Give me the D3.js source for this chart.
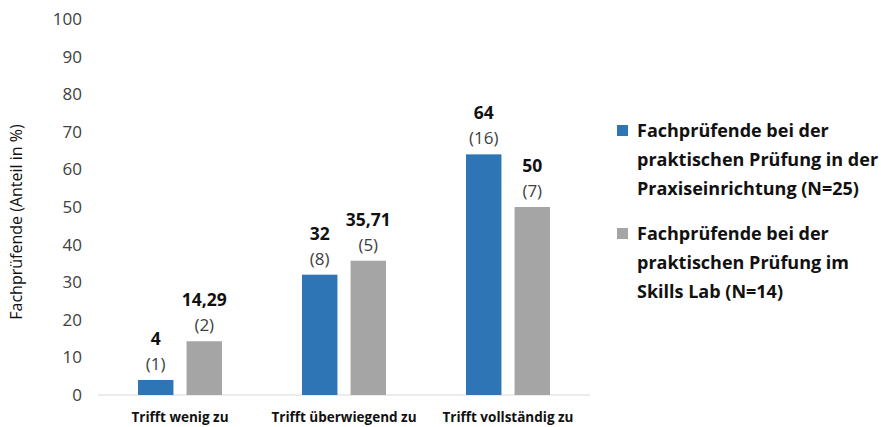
<!DOCTYPE html>
<html>
<head>
<meta charset="utf-8">
<script src="https://cdn.jsdelivr.net/npm/d3@7"></script>
<style>
  body { margin: 0; background: #fff; }
  svg { font-family: "Open Sans", sans-serif; }
</style>
</head>
<body>
<svg id="chart" width="895" height="427"></svg>
<script>
// Kategorien und Werte (Anteil in %), Anzahl in Klammern
const categories = ["Trifft wenig zu", "Trifft überwiegend zu", "Trifft vollständig zu"];
const seriesNames = [
  ["Fachprüfende bei der", "praktischen Prüfung in der", "Praxiseinrichtung (N=25)"],
  ["Fachprüfende bei der", "praktischen Prüfung im", "Skills Lab (N=14)"]
];
const praxisValues = [4, 32, 64];
const praxisCounts = [1, 8, 16];
const skillsValues = [14.29, 35.71, 50];
const skillsCounts = [2, 5, 7];
const yTicks = [0, 10, 20, 30, 40, 50, 60, 70, 80, 90, 100];
const colors = ["#2E75B6", "#A5A5A5"];

const svg = d3.select("#chart");

const x = d3.scaleBand().domain(categories).range([98, 590]).padding(0);
const y = d3.scaleLinear().domain([0, 100]).range([395, 19]);

// inner scale for the two bars of one group
const sub = d3.scaleBand().domain([0, 1]).range([-42, 42]).paddingInner(0.27);

const fmt = v => String(v).replace(".", ",");

const rows = [];
categories.forEach(function (c, i) {
  rows.push({cat: c, s: 0, v: praxisValues[i], n: praxisCounts[i]});
  rows.push({cat: c, s: 1, v: skillsValues[i], n: skillsCounts[i]});
});

// y axis (labels only, no line)
const yAxis = svg.append("g")
  .attr("transform", "translate(82,0)")
  .call(d3.axisLeft(y).tickValues(yTicks).tickSize(0).tickPadding(0));
yAxis.select(".domain").remove();
yAxis.selectAll("text")
  .style("font-family", "Open Sans")
  .style("font-size", "17px")
  .style("fill", "#404040");

// baseline
svg.append("line")
  .attr("x1", x.range()[0]).attr("x2", x.range()[1])
  .attr("y1", y(0)).attr("y2", y(0))
  .style("stroke", "#d9d9d9")
  .style("stroke-width", 1);

// bars
const cx = d => x(d.cat) + x.bandwidth() / 2 + sub(d.s);
svg.selectAll("rect.bar")
  .data(rows)
  .enter()
  .append("rect")
  .attr("class", "bar")
  .attr("x", cx)
  .attr("width", sub.bandwidth())
  .attr("y", d => y(d.v))
  .attr("height", d => y(0) - y(d.v))
  .style("fill", d => colors[d.s]);

// value labels
svg.selectAll("text.val")
  .data(rows)
  .enter()
  .append("text")
  .attr("class", "val")
  .attr("x", d => cx(d) + sub.bandwidth() / 2)
  .attr("y", d => y(d.v) - 35)
  .attr("text-anchor", "middle")
  .style("font-size", "17.5px")
  .style("font-weight", "bold")
  .style("fill", "#111")
  .text(d => fmt(d.v));

svg.selectAll("text.cnt")
  .data(rows)
  .enter()
  .append("text")
  .attr("class", "cnt")
  .attr("x", d => cx(d) + sub.bandwidth() / 2)
  .attr("y", d => y(d.v) - 10)
  .attr("text-anchor", "middle")
  .style("font-size", "17px")
  .style("fill", "#404040")
  .text(d => "(" + d.n + ")");

// category labels
svg.selectAll("text.cat")
  .data(categories)
  .enter()
  .append("text")
  .attr("class", "cat")
  .attr("x", d => x(d) + x.bandwidth() / 2)
  .attr("y", 422)
  .attr("text-anchor", "middle")
  .style("font-size", "13.5px")
  .style("font-weight", "bold")
  .style("fill", "#111")
  .text(d => d);

// y title
svg.append("text")
  .attr("transform", "translate(22,222) rotate(-90)")
  .attr("text-anchor", "middle")
  .style("font-size", "16px")
  .style("fill", "#111")
  .text("Fachprüfende (Anteil in %)");

// legend
const legend = svg.selectAll("g.leg")
  .data(seriesNames)
  .enter()
  .append("g")
  .attr("class", "leg")
  .attr("transform", (d, i) => "translate(617," + (125 + i * 103) + ")");

legend.append("rect")
  .attr("width", 11).attr("height", 11)
  .style("fill", (d, i) => colors[i]);

legend.each(function (lines) {
  const t = d3.select(this).append("text")
    .attr("x", 20)
    .attr("y", 12)
    .style("font-size", "18px")
    .style("font-weight", "bold")
    .style("fill", "#111");
  lines.forEach(function (l, j) {
    t.append("tspan").attr("x", 20).attr("dy", j === 0 ? 0 : 29).text(l);
  });
});
</script>
</body>
</html>
